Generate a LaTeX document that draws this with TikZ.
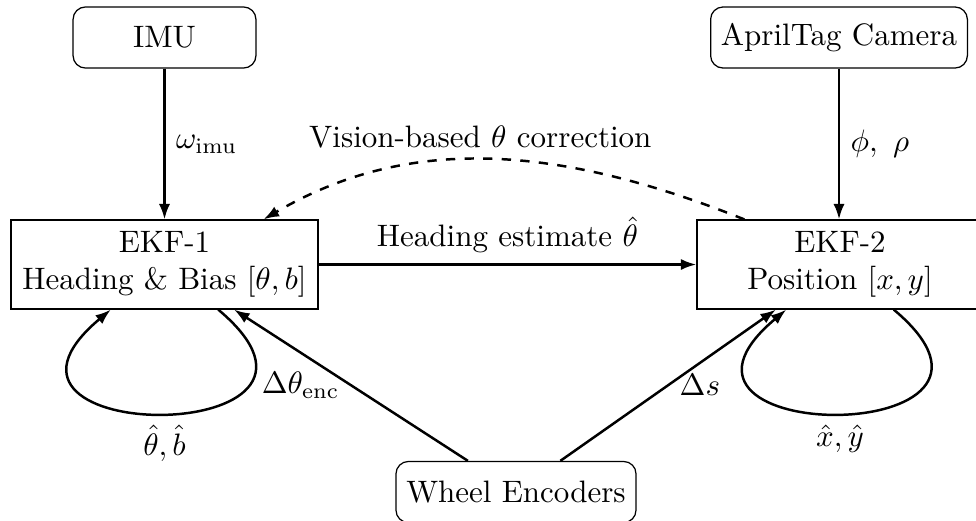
\documentclass[tikz,border=0pt]{standalone}
\usetikzlibrary{calc,arrows.meta}
\begin{document}
\begin{tikzpicture}[
  x=0.3226pt, y=0.3226pt,
  >={Latex[length=5pt, width=3.6pt]},
  source/.style={draw, rounded corners, minimum height=19.7pt, inner sep=3.33pt},
  filter/.style={draw, align=center, minimum height=28.7pt},
  flow/.style={->, thick}
]
\useasboundingbox (0,0) rectangle (976,520);

% sensors and filters
\node[source, minimum width=59pt] (imu) at (164.5,482.5) {IMU};
\node[source] (cam) at (839,482.5) {AprilTag Camera};
\node[filter, minimum width=99pt] (ekf1) at (164.5,255.5) {EKF-1\\Heading \& Bias $[\theta, b]$};
\node[filter, minimum width=92.3pt] (ekf2) at (840,255.5) {EKF-2\\Position $[x, y]$};
\node[source] (enc) at (516,28) {Wheel Encoders};

% measurement inputs
\draw[flow] (imu) -- node[right] {$\omega_{\mathrm{imu}}$} (ekf1);
\draw[flow] (cam.south) -- node[right] {$\phi,\ \rho$} (cam.south |- ekf2.north);

% coupling between the two filters
\draw[flow] (ekf1) -- node[above] {Heading estimate $\hat{\theta}$} (ekf2);
\draw[flow, dashed] ($(ekf2.north west)+(48,0)$)
  .. controls +(-200,80) and +(137,80) ..
  node[above] {Vision-based $\theta$ correction}
  ($(ekf1.north east)+(-55,0)$);

% state feedback loops
\draw[flow] (ekf1.-40) .. controls +(-40:216) and +(-140:216) ..
  node[below] {$\hat{\theta}, \hat{b}$} (ekf1.-140);
\draw[flow] (ekf2.-40) .. controls +(-40:216) and +(-140:216) ..
  node[below] {$\hat{x}, \hat{y}$} (ekf2.-140);

% odometry
\draw[flow] (enc) -- node[left] {$\Delta\theta_{\mathrm{enc}}$} (ekf1);
\draw[flow] (enc) -- node[right] {$\Delta s$} (ekf2);
\end{tikzpicture}
\end{document}
